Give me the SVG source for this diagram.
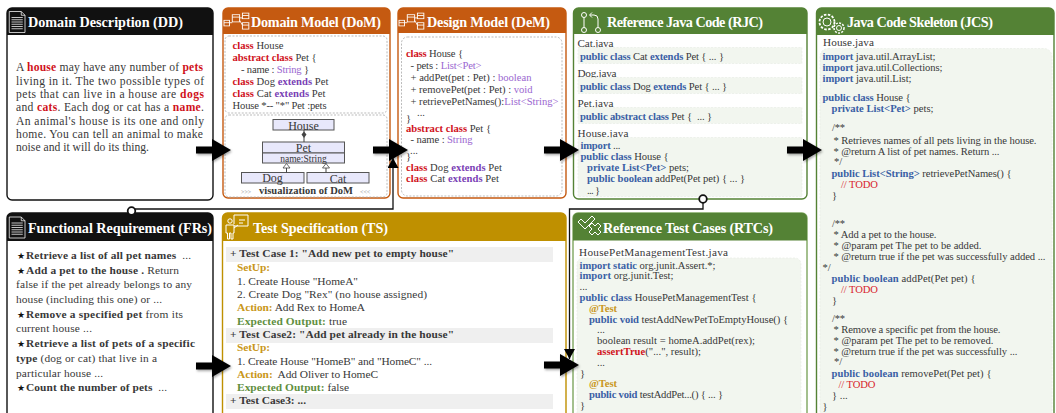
<svg xmlns="http://www.w3.org/2000/svg" xmlns:xlink="http://www.w3.org/1999/xlink" width="1056" height="413" viewBox="0 0 1056 413">
<style>
text{font-family:"Liberation Serif","Times New Roman",serif;font-size:11px;fill:#383838;white-space:pre}
.h{font-size:14.2px;font-weight:bold;fill:#fff}
.d{font-size:11.6px}
.f{font-size:11.4px}
.c{font-size:10.6px}
.n{font-size:11.2px}
.s{font-size:8.5px;fill:#111}
.b{font-weight:bold}
.r{fill:#d0121b;font-weight:bold}
.rn{fill:#d8242c}
.p{fill:#7a3fb5;font-weight:bold}
.pl{fill:#9a66d0}
.k{fill:#3a5fa5;font-weight:bold}
.y{fill:#c9971a;font-weight:bold}
.g{fill:#5f8f3e;font-weight:bold}
.body{fill:#fff;stroke-width:1.4}
.ic{fill:none;stroke:#fff;stroke-width:1}
.dash{fill:#fff;stroke:#aaa;stroke-width:.8;stroke-dasharray:2 1.5}
.code{fill:#f2f6ef;stroke:#e6ebe2;stroke-width:.6;stroke-dasharray:2 1.5}
.uml{fill:#e8e8fb;stroke:#555;stroke-width:1}
.bar{fill:#efefef}
.ln{fill:none;stroke:#444;stroke-width:1}
</style>
<defs>
<filter id="sh" x="-20%" y="-20%" width="150%" height="150%"><feDropShadow dx="1" dy="1.5" stdDeviation="1" flood-color="#000" flood-opacity=".35"/></filter>
<path id="big" d="M0,-3.5H16V-11L35,0L16,11V3.5H0Z" fill="#000" filter="url(#sh)"/>
<marker id="ah" markerUnits="userSpaceOnUse" markerWidth="12" markerHeight="12" refX="10" refY="5.5" orient="auto"><path d="M0,0L10,5.5L0,11Z" fill="#000"/></marker>
<g id="doc" class="ic"><path d="M3,2H19L24,7V30H3Z"/><path d="M19,2V7H24M6,10H21M6,13H21M6,16H21M6,19H21M6,22H21M6,25H21"/></g>
<g id="um" class="ic"><rect x="0" y="11" width="6" height="7"/><rect x="9" y="4" width="8" height="9"/><rect x="20" y="2" width="7" height="7"/><rect x="20" y="14" width="7" height="8"/><path d="M6,14H9M17,8H20M17,11L20,17M9,7H17M20,5H27M20,17H27M0,14H6"/></g>
</defs>

<g id="DD">
<rect class="body" x="7" y="8" width="206" height="192" rx="5" stroke="#111"/>
<path d="M7,35V13a5,5 0 0 1 5,-5H208a5,5 0 0 1 5,5V35Z" fill="#111"/>
<use href="#doc" transform="translate(7,10) scale(.75)"/>
<text class="h" x="28" y="27" textLength="155">Domain Description (DD)</text>
<text class="d" x="16" y="71" textLength="187">A <tspan class="r">house</tspan> may have any number of <tspan class="r">pets</tspan></text>
<text class="d" x="16" y="84.5" textLength="188">living in it. The two possible types of</text>
<text class="d" x="16" y="98" textLength="188">pets that can live in a house are <tspan class="r">dogs</tspan></text>
<text class="d" x="16" y="111" textLength="188">and <tspan class="r">cats</tspan>. Each dog or cat has a <tspan class="r">name</tspan>.</text>
<text class="d" x="16" y="125" textLength="188">An animal's house is its one and only</text>
<text class="d" x="16" y="138" textLength="187">home. You can tell an animal to make</text>
<text class="d" x="16" y="151" textLength="133">noise and it will do its thing.</text>
</g>

<g id="DoM">
<rect class="body" x="223" y="8" width="167" height="190" rx="5" stroke="#c55a11"/>
<path d="M223,34V13a5,5 0 0 1 5,-5H385a5,5 0 0 1 5,5V34Z" fill="#c55a11"/>
<use href="#um" transform="translate(224,11.500) scale(.92,.8)"/>
<text class="h" x="251" y="26.500" textLength="130">Domain Model (DoM)</text>
<rect class="dash" x="225" y="36" width="162" height="77" rx="4"/>
<rect class="dash" x="225" y="115" width="162" height="82" rx="4"/>
<text class="c" x="232.500" y="49" textLength="51"><tspan class="r">class</tspan> House</text>
<text class="c" x="232.500" y="61" textLength="84"><tspan class="r">abstract class</tspan> Pet {</text>
<text class="c" x="241" y="73" textLength="68">- name : <tspan class="pl">String</tspan> }</text>
<text class="c" x="232.500" y="85" textLength="96"><tspan class="r">class</tspan> Dog <tspan class="p">extends</tspan> Pet</text>
<text class="c" x="232.500" y="97" textLength="93"><tspan class="r">class</tspan> Cat <tspan class="p">extends</tspan> Pet</text>
<text class="c" x="232.500" y="109" textLength="94">House *-- "*" Pet :pets</text>
<rect class="uml" x="273" y="119.500" width="61" height="10.500"/>
<rect class="uml" x="262.500" y="142" width="82" height="11"/>
<rect class="uml" x="262.500" y="153" width="82" height="10"/>
<rect class="uml" x="241.500" y="172.500" width="62.500" height="10.500"/>
<rect class="uml" x="307" y="172.500" width="62" height="10.500"/>
<path class="ln" d="M304,130V142M286.500,168V172.500M326,168V172.500"/>
<path d="M304,131.500L306.500,134.500L304,138L301.500,134.500Z" fill="#444"/>
<path d="M286.500,163.500L290,168H283Z M326,163.500L329.500,168H322.500Z" fill="#fff" stroke="#444" stroke-width=".8"/>
<text class="n" x="303.500" y="129.500" text-anchor="middle" style="font-size:12px">House</text>
<text class="n" x="303.500" y="152" text-anchor="middle" style="font-size:12px">Pet</text>
<text x="303.500" y="162" text-anchor="middle" style="font-size:9.500px">name:String</text>
<text class="n" x="272.500" y="182" text-anchor="middle" style="font-size:12px">Dog</text>
<text class="n" x="338" y="183" text-anchor="middle" style="font-size:12px">Cat</text>
<text class="b" x="306" y="194" text-anchor="middle" textLength="94" style="font-size:10.500px">visualization of DoM</text>
<text x="241" y="194" style="font-size:6px;fill:#999">&gt;&gt;&gt;</text>
<text x="360" y="194" style="font-size:6px;fill:#999">&lt;&lt;&lt;</text>
</g>

<g id="DeM">
<rect class="body" x="398" y="8" width="168" height="190" rx="5" stroke="#c55a11"/>
<path d="M398,33V13a5,5 0 0 1 5,-5H561a5,5 0 0 1 5,5V33Z" fill="#c55a11"/>
<use href="#um" transform="translate(399,11.500) scale(.92,.8)"/>
<text class="h" x="427" y="26.500" textLength="123">Design Model (DeM)</text>
<rect class="dash" x="401.500" y="37" width="160.500" height="159" rx="6"/>
<text class="c" x="406" y="57" textLength="57"><tspan class="r">class</tspan> House {</text>
<text class="c" x="410.500" y="69" textLength="71">- pets : <tspan class="pl">List&lt;Pet&gt;</tspan></text>
<text class="c" x="410.500" y="81" textLength="121">+ addPet(pet : Pet) : <tspan class="pl">boolean</tspan></text>
<text class="c" x="410.500" y="93" textLength="122">+ removePet(pet : Pet) : <tspan class="pl">void</tspan></text>
<text class="c" x="410.500" y="105" textLength="148">+ retrievePetNames():<tspan class="pl">List&lt;String&gt;</tspan></text>
<text class="c" x="417" y="116">...</text>
<text class="c" x="406" y="122">}</text>
<text class="c" x="406" y="132" textLength="85"><tspan class="r">abstract class</tspan> Pet {</text>
<text class="c" x="410.500" y="143" textLength="62">- name : <tspan class="pl">String</tspan></text>
<text class="c" x="410" y="154">...</text>
<text class="c" x="406" y="160">}</text>
<text class="c" x="406" y="171" textLength="96"><tspan class="r">class</tspan> Dog <tspan class="p">extends</tspan> Pet</text>
<text class="c" x="406" y="182" textLength="93"><tspan class="r">class</tspan> Cat <tspan class="p">extends</tspan> Pet</text>
</g>

<g id="RJC">
<rect class="body" x="573.500" y="8" width="233.500" height="191" rx="5" stroke="#548235"/>
<path d="M573.500,34V13a5,5 0 0 1 5,-5H802a5,5 0 0 1 5,5V34Z" fill="#548235"/>
<g class="ic"><circle cx="584" cy="15" r="2.500"/><circle cx="584" cy="30" r="2.500"/><circle cx="598" cy="30" r="2.500"/><path d="M584,17.500V27.500M598,27.500V19Q598,15 594,15H590M592,12.500L589.500,15L592,17.500"/></g>
<text class="h" x="607" y="27" textLength="156">Reference Java Code (RJC)</text>
<text class="n" x="577.500" y="47" textLength="36">Cat.java</text>
<rect class="code" x="578" y="47.500" width="224" height="16"/>
<text class="c" x="580" y="60" textLength="144"><tspan class="k">public class</tspan> Cat <tspan class="k">extends</tspan> Pet { ... }</text>
<text class="n" x="577.500" y="77" textLength="39">Dog.java</text>
<rect class="code" x="578" y="77.500" width="224" height="16"/>
<text class="c" x="580" y="90" textLength="147"><tspan class="k">public class</tspan> Dog <tspan class="k">extends</tspan> Pet { ... }</text>
<text class="n" x="577.500" y="107" textLength="36">Pet.java</text>
<rect class="code" x="578" y="107.500" width="224" height="16"/>
<text class="c" x="580" y="120" textLength="132"><tspan class="k">public abstract class</tspan> Pet {  ... }</text>
<text class="n" x="577.500" y="137" textLength="51">House.java</text>
<rect class="code" x="578" y="137.500" width="224" height="59"/>
<text class="c" x="580.500" y="149" textLength="40"><tspan class="k">import</tspan> ...</text>
<text class="c" x="580.500" y="160" textLength="88"><tspan class="k">public class</tspan> House {</text>
<text class="c" x="587" y="171" textLength="102"><tspan class="k">private List&lt;Pet&gt;</tspan> pets;</text>
<text class="c" x="587" y="182" textLength="158"><tspan class="k">public boolean</tspan> addPet(Pet pet) { ... }</text>
<text class="c" x="587" y="194" textLength="13">... }</text>
</g>

<g id="JCS">
<path class="body" d="M816.500,420V13a5,5 0 0 1 5,-5H1049a5,5 0 0 1 5,5V420" stroke="#548235"/>
<path d="M816.500,35V13a5,5 0 0 1 5,-5H1049a5,5 0 0 1 5,5V35Z" fill="#548235"/>
<g class="ic"><circle cx="827" cy="22" r="4"/><circle cx="827" cy="22" r="7.500" stroke-dasharray="2.500 1.500" stroke-width="1.800"/><circle cx="839" cy="28" r="2.500"/><circle cx="839" cy="28" r="5" stroke-dasharray="2 1.300" stroke-width="1.500"/></g>
<text class="h" x="847" y="27" textLength="146">Java Code Skeleton (JCS)</text>
<text class="n" x="823" y="46" textLength="51">House.java</text>
<rect class="code" x="820" y="48.500" width="232" height="372" rx="8"/>
<text class="c" x="822.500" y="60" textLength="113"><tspan class="k">import</tspan> java.util.ArrayList;</text>
<text class="c" x="822.500" y="71" textLength="120"><tspan class="k">import</tspan> java.util.Collections;</text>
<text class="c" x="822.500" y="82" textLength="89"><tspan class="k">import</tspan> java.util.List;</text>
<text class="c" x="822.500" y="101" textLength="88"><tspan class="k">public class</tspan> House {</text>
<text class="c" x="831.500" y="112" textLength="102"><tspan class="k">private List&lt;Pet&gt;</tspan> pets;</text>
<text class="c" x="832" y="131" textLength="13">/**</text>
<text class="c" x="833.500" y="144" textLength="203">* Retrieves names of all pets living in the house.</text>
<text class="c" x="833.500" y="155" textLength="166">* @return A list of pet names. Return ...</text>
<text class="c" x="834" y="165">*/</text>
<text class="c" x="831.500" y="177" textLength="180"><tspan class="k">public List&lt;String&gt;</tspan> retrievePetNames() {</text>
<text class="c rn" x="841" y="188" textLength="37">// TODO</text>
<text class="c" x="832" y="199">}</text>
<text class="c" x="832" y="227" textLength="13">/**</text>
<text class="c" x="833.500" y="238" textLength="103">* Add a pet to the house.</text>
<text class="c" x="833.500" y="249" textLength="148">* @param pet The pet to be added.</text>
<text class="c" x="833.500" y="260" textLength="212">* @return true if the pet was successfully added ...</text>
<text class="c" x="822.500" y="271">*/</text>
<text class="c" x="831.500" y="282" textLength="144"><tspan class="k">public boolean</tspan> addPet(Pet pet) {</text>
<text class="c rn" x="841" y="293" textLength="37">// TODO</text>
<text class="c" x="832" y="304">}</text>
<text class="c" x="832" y="322" textLength="13">/**</text>
<text class="c" x="833.500" y="333" textLength="167">* Remove a specific pet from the house.</text>
<text class="c" x="833.500" y="344" textLength="160">* @param pet The pet to be removed.</text>
<text class="c" x="833.500" y="355" textLength="184">* @return true if the pet was successfully ...</text>
<text class="c" x="834" y="365">*/</text>
<text class="c" x="831.500" y="377" textLength="160"><tspan class="k">public boolean</tspan> removePet(Pet pet) {</text>
<text class="c rn" x="838.500" y="388" textLength="37">// TODO</text>
<text class="c" x="832" y="399">} ...</text>
<text class="c" x="822.500" y="410">}</text>
</g>

<g id="FRs">
<path class="body" d="M7,420V218a5,5 0 0 1 5,-5H208a5,5 0 0 1 5,5V420" stroke="#111"/>
<path d="M7,241V218a5,5 0 0 1 5,-5H208a5,5 0 0 1 5,5V241Z" fill="#111"/>
<use href="#doc" transform="translate(7,215.500) scale(.75)"/>
<text class="h" x="28" y="232.500" textLength="184">Functional Requirement (FRs)</text>
<text class="s" x="16.500" y="258.500">★</text><text class="f" x="26" y="259" textLength="165"><tspan class="b">Retrieve a list of all pet names</tspan>  ...</text>
<text class="s" x="16.500" y="273.500">★</text><text class="f" x="26" y="274" textLength="153"><tspan class="b">Add a pet to the house .</tspan> Return</text>
<text class="f" x="16" y="288" textLength="176">false if the pet already belongs to any</text>
<text class="f" x="16" y="303" textLength="146">house (including this one) or ...</text>
<text class="s" x="16.500" y="317.500">★</text><text class="f" x="26" y="318" textLength="157"><tspan class="b">Remove a specified pet</tspan> from its</text>
<text class="f" x="16" y="332" textLength="76">current house ...</text>
<text class="s" x="16.500" y="346.500">★</text><text class="f b" x="26" y="347" textLength="169">Retrieve a list of pets of a specific</text>
<text class="f" x="16" y="362" textLength="141"><tspan class="b">type</tspan> (dog or cat) that live in a</text>
<text class="f" x="16" y="377" textLength="87">particular house ...</text>
<text class="s" x="16.500" y="390.500">★</text><text class="f" x="26" y="391" textLength="141"><tspan class="b">Count the number of pets</tspan>  ...</text>
</g>

<g id="TS">
<path class="body" d="M222.500,420V218a5,5 0 0 1 5,-5H561a5,5 0 0 1 5,5V420" stroke="#bf9000"/>
<path d="M222.500,241V218a5,5 0 0 1 5,-5H561a5,5 0 0 1 5,5V241Z" fill="#bf9000"/>
<g class="ic"><circle cx="230" cy="221" r="2.200"/><path d="M226,225H234V233H233V239H231V233H229.500V239H227.500V233H226Z"/><path d="M234,226H248V215H234V224"/><path d="M239,220H245M239,223H243M234,228L238,225"/></g>
<text class="h" x="253" y="232.500" textLength="135">Test Specification (TS)</text>
<rect class="bar" x="226" y="247" width="327" height="15"/>
<rect class="bar" x="226" y="328" width="327" height="15"/>
<rect class="bar" x="226" y="394" width="327" height="15"/>
<text class="f b" x="230" y="257" textLength="224">+ Test Case 1: "Add new pet to empty house"</text>
<text class="f y" x="237" y="271" textLength="33">SetUp:</text>
<text class="f" x="237" y="285" textLength="121">1. Create House "HomeA"</text>
<text class="f" x="237" y="298" textLength="190">2. Create Dog "Rex" (no house assigned)</text>
<text class="f" x="237" y="311" textLength="128"><tspan class="y">Action:</tspan> Add Rex to HomeA</text>
<text class="f" x="237" y="325" textLength="110"><tspan class="g">Expected Output:</tspan> true</text>
<text class="f b" x="230" y="338" textLength="224">+ Test Case2: "Add pet already in the house"</text>
<text class="f y" x="237" y="351" textLength="33">SetUp:</text>
<text class="f" x="237" y="365" textLength="195">1. Create House "HomeB" and "HomeC" ...</text>
<text class="f" x="237" y="378" textLength="141"><tspan class="y">Action:</tspan>  Add Oliver to HomeC</text>
<text class="f" x="237" y="391" textLength="112"><tspan class="g">Expected Output:</tspan> false</text>
<text class="f b" x="230" y="404" textLength="76">+ Test Case3: ...</text>
</g>

<g id="RTCs">
<path class="body" d="M573,420V218a5,5 0 0 1 5,-5H802a5,5 0 0 1 5,5V420" stroke="#7ea65f"/>
<path d="M573,240.500V218a5,5 0 0 1 5,-5H802a5,5 0 0 1 5,5V240.500Z" fill="#548235"/>
<g class="ic"><path d="M578,222L581,219L585,223L592,216L595,219L585,229Z"/><path d="M589,226L592,223L595,226L598,223L601,226L598,229L601,232L598,235L595,232L592,235L589,232L592,229Z"/></g>
<text class="h" x="603" y="232.500" textLength="170">Reference Test Cases (RTCs)</text>
<text class="n" x="579" y="256" textLength="149">HousePetManagementTest.java</text>
<rect class="code" x="577" y="258" width="224" height="162" rx="6"/>
<text class="c" x="579.500" y="269" textLength="136"><tspan class="k">import static</tspan> org.junit.Assert.*;</text>
<text class="c" x="579.500" y="279" textLength="94"><tspan class="k">import</tspan> org.junit.Test;</text>
<text class="c" x="579.500" y="290">...</text>
<text class="c" x="579.500" y="301" textLength="177"><tspan class="k">public class</tspan> HousePetManagementTest {</text>
<text class="c y" x="589" y="312" textLength="28">@Test</text>
<text class="c" x="589" y="323" textLength="199"><tspan class="k">public void</tspan> testAddNewPetToEmptyHouse() {</text>
<text class="c" x="597" y="333">...</text>
<text class="c" x="597" y="344" textLength="158">boolean result = homeA.addPet(rex);</text>
<text class="c" x="597" y="355" textLength="104"><tspan class="r">assertTrue</tspan>("...", result);</text>
<text class="c" x="597" y="366">...</text>
<text class="c" x="580" y="377">}</text>
<text class="c y" x="589" y="387" textLength="28">@Test</text>
<text class="c" x="589" y="398" textLength="134"><tspan class="k">public void</tspan> testAddPet...() { ... }</text>
<text class="c" x="580" y="409">}</text>
</g>

<g id="connectors">
<path d="M135,209H393V158" fill="none" stroke="#111" stroke-width="1.300" marker-end="url(#ah)"/>
<path d="M703,203V209H569.500V359" fill="none" stroke="#111" stroke-width="1.300" marker-end="url(#ah)"/>
<circle cx="131.500" cy="211" r="3.800" fill="#fff" stroke="#111" stroke-width="1.800"/>
<circle cx="703" cy="199" r="3.800" fill="#fff" stroke="#111" stroke-width="1.800"/>
<use href="#big" x="196" y="150"/>
<use href="#big" x="373" y="150"/>
<use href="#big" x="544" y="150"/>
<use href="#big" x="787" y="150"/>
<use href="#big" x="196" y="366"/>
<use href="#big" x="544" y="365"/>
</g>
</svg>
